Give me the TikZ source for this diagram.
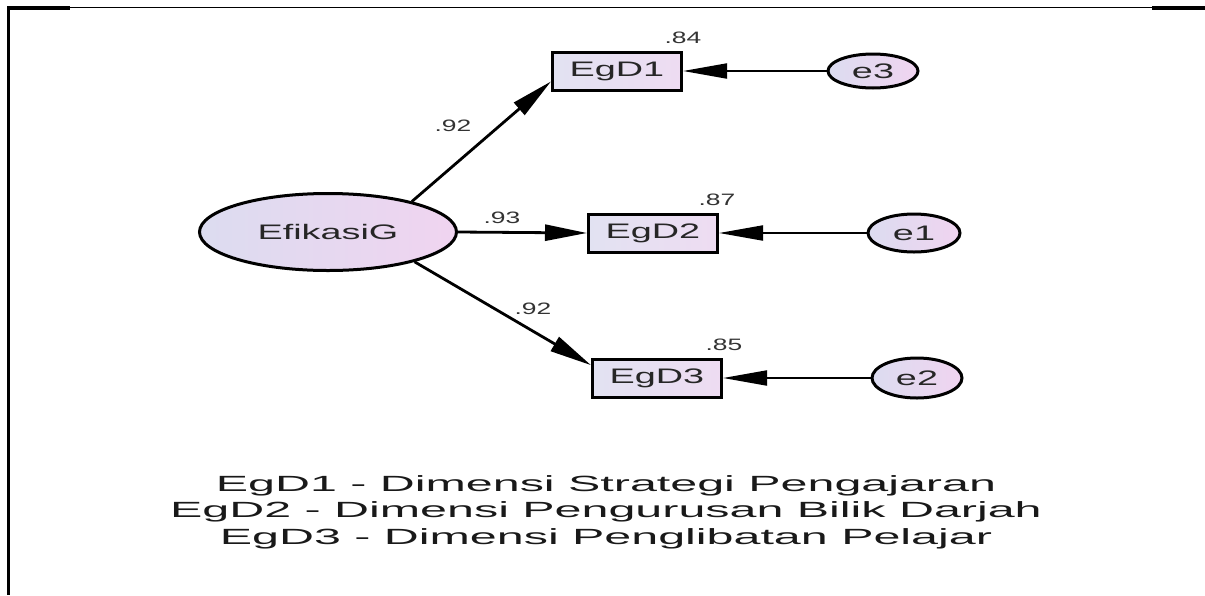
\documentclass[tikz,border=0pt]{standalone}
\usepackage{fontspec}
\setmainfont{Liberation Sans}
\newfontfamily\nfont[FakeStretch=1.8]{Liberation Sans}
\newfontfamily\sfontx[FakeStretch=1.6]{Liberation Sans}
\newfontfamily\lfont[FakeStretch=2.2]{Liberation Sans}
\usetikzlibrary{shapes.geometric,arrows.meta}
\definecolor{lavL}{HTML}{DCDCF0}
\definecolor{lavR}{HTML}{F0D4F0}
\definecolor{boxL}{HTML}{E2E2F2}
\definecolor{boxR}{HTML}{EEDCF2}
\begin{document}
\begin{tikzpicture}[x=1pt,y=-1pt,
 latent/.style={ellipse,draw=black,line width=3pt,inner sep=0pt,left color=lavL,right color=lavR,
   font=\nfont\fontsize{21}{25}\selectfont,text=black!85},
 obs/.style={rectangle,draw=black,line width=3pt,inner sep=0pt,minimum width=129pt,minimum height=38pt,
   left color=boxL,right color=boxR,font=\nfont\fontsize{21}{25}\selectfont,text=black!85},
 loadarrow/.style={line width=2.8pt,-{Triangle[length=42pt,width=16pt]}},
 errarrow/.style={line width=2pt,-{Triangle[length=44pt,width=15pt]}},
 lbl/.style={font=\sfontx\fontsize{16.5}{18}\selectfont,text=black!80,inner sep=0pt},
 legend/.style={font=\lfont\fontsize{22}{26.5}\selectfont,align=center,text=black!90,inner sep=0pt},
]
\useasboundingbox (0,0) rectangle (1205,595);
% frame
\draw[line width=1.8pt] (7,7.5) -- (1205,7.5);
\draw[line width=3.2pt] (7,8) -- (70,8);
\draw[line width=3.2pt] (1152,8) -- (1205,8);
\draw[line width=2.8pt] (8.5,7) -- (8.5,595);
% nodes
\node[latent,minimum width=257pt,minimum height=77pt] (efi) at (328,232) {EfikasiG};
\node[obs] (d1) at (617,71) {EgD1};
\node[obs] (d2) at (653,233) {EgD2};
\node[obs] (d3) at (657,378) {EgD3};
\node[latent,minimum width=90pt,minimum height=34pt] (e3) at (873,71) {e3};
\node[latent,minimum width=92pt,minimum height=38pt] (e1) at (914,233) {e1};
\node[latent,minimum width=90pt,minimum height=40pt] (e2) at (917,378) {e2};
% labels
\node[lbl] (l1) at (453,126) {.92};
\node[lbl] (l2) at (502,218) {.93};
\node[lbl] (l3) at (533,309) {.92};
\node[lbl] (r1) at (683,38) {.84};
\node[lbl] (r2) at (717,200) {.87};
\node[lbl] (r3) at (724,345) {.85};
% arrows
\draw[loadarrow] (efi.20) -- (d1.189);
\draw[loadarrow] (efi.east) -- (d2.west);
\draw[loadarrow] (efi.-19) -- (d3.169);
\draw[errarrow] (e3.west) -- (d1.east);
\draw[errarrow] (e1.west) -- (d2.east);
\draw[errarrow] (e2.west) -- (d3.east);
% legend
\node[legend] (leg) at (606,512) {EgD1 - Dimensi Strategi Pengajaran\\EgD2 - Dimensi Pengurusan Bilik Darjah\\EgD3 - Dimensi Penglibatan Pelajar};
\end{tikzpicture}
\end{document}
